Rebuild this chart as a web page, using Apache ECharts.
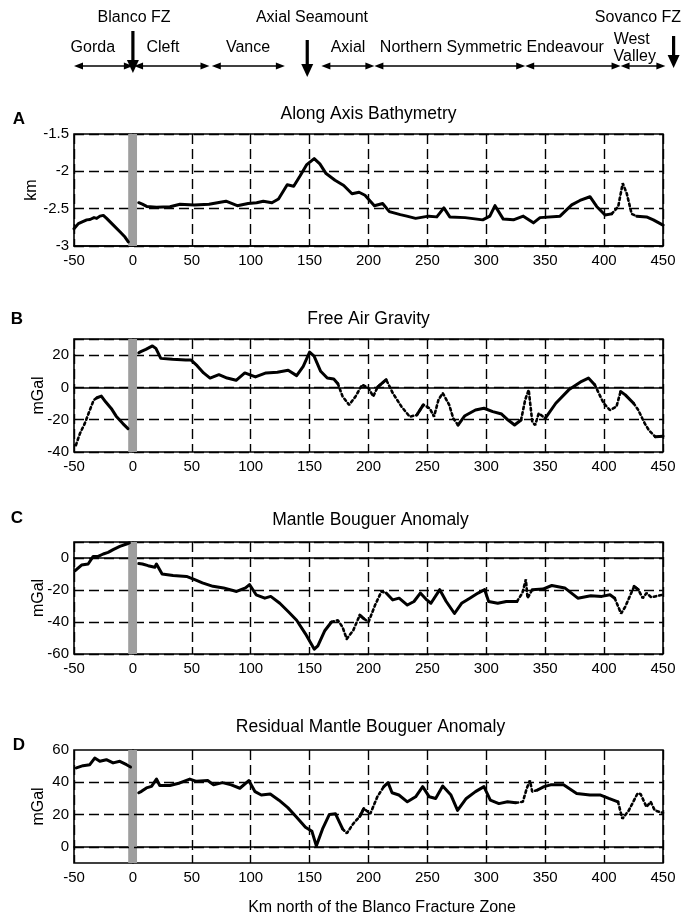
<!DOCTYPE html>
<html><head><meta charset="utf-8">
<script src="https://cdn.jsdelivr.net/npm/echarts@6/dist/echarts.min.js"></script>
<style>html,body{margin:0;padding:0;background:#fff}#c{width:681px;height:920px}</style>
</head><body><div id="c"></div>
<script>
// ---------- data ----------
const kmMin = -50, kmMax = 450, kmStep = 50;
const bandKm = [-4, 3.5]; // shaded Blanco FZ band

// A: Along axis bathymetry (km)
const bathyX = [-50,-46.3,-43.5,-39.2,-36.4,-33,-30.7,-28,-25.1,-22.3,-16.6,-11,-6.7,-3.9,1,
 5,8,11.7,20,31.5,40,52,64.6,79,88.6,97.8,105,110.7,118,123.6,131,136.5,142,147.6,153.9,158.7,164,171.6,179,186,192,197,205,212,217.7,227,232.5,240,251,258,264,269,282,297,303,307.4,314.4,323,331.4,340,345.6,362.6,372.5,379.5,388,393.7,400.8,406.4,412,415.8,419.2,423.4,427.7,436,441.8,450];
const bathyY = [-2.77,-2.70,-2.68,-2.65,-2.645,-2.62,-2.63,-2.60,-2.59,-2.63,-2.72,-2.81,-2.88,-2.945,null,
 -2.42,-2.44,-2.47,-2.48,-2.475,-2.44,-2.45,-2.44,-2.40,-2.46,-2.43,-2.42,-2.40,-2.42,-2.37,-2.18,-2.20,-2.06,-1.91,-1.83,-1.90,-2.03,-2.12,-2.19,-2.30,-2.28,-2.32,-2.46,-2.43,-2.54,-2.58,-2.60,-2.63,-2.60,-2.61,-2.49,-2.61,-2.62,-2.65,-2.60,-2.46,-2.64,-2.65,-2.60,-2.69,-2.62,-2.60,-2.45,-2.39,-2.34,-2.47,-2.585,-2.57,-2.47,-2.16,-2.295,-2.57,-2.60,-2.61,-2.65,-2.72];
const bathyDotted = [[410,426]];

// B: Free air gravity (mGal)
const faaX = [-48.4,-45,-40.9,-36.6,-33.3,-30.5,-26.8,-23.2,-18.4,-14.2,-8.5,-4.2,1,
 5,6.7,11,16.6,19.5,23.7,33.6,44.9,49.2,54.5,60,65.5,73,80,87.6,95,104,113,122.6,131.8,139,144.6,150,153.8,159.4,165,170.5,174,178,183.6,189,194.6,200,204,207.7,215,220.6,228,235,241,246.5,252,255.6,259.4,263,268.5,272,276,281.5,290.8,298,305.5,313,318.5,324,329.5,333,336,339,341.5,344.5,350,359,370,381,386.7,392,399.6,405,410.5,414,418,425,429,434.5,438,443.5,450];
const faaY = [-35.8,-28.6,-22.4,-14.1,-7.9,-6.4,-5.4,-8.9,-13,-17.8,-22.4,-25.5,null,
 21.5,22.2,23.6,25.7,24.2,18,17.4,17,17,13.5,9.0,5.8,7.9,5.8,4.4,9,6.5,9,9.4,10.6,7.3,13.1,21.9,19.4,10,5.8,5.2,2.3,-5.6,-10.8,-5.6,1.7,-0.4,-5.6,0.2,4.8,-3.5,-11.9,-18.1,-17.1,-10.8,-12.9,-18.1,-7.7,-3.5,-10.8,-19.2,-23.3,-17.7,-14,-12.9,-15,-16.5,-20.2,-23.3,-20.2,-7.7,-1.5,-21.3,-23.3,-16,-19.2,-9.8,-1.5,3.8,5.8,1.7,-9.8,-14,-11.9,-2.5,-4.6,-9.8,-14,-22.3,-26.5,-30.6,-30.2];
const faaDotted = [[-48.5,-33],[176,190],[198,206],[218,236],[252,275],[330,346],[398,412],[426,440]];

// C: Mantle Bouguer anomaly (mGal)
const mbaX = [-49,-43.6,-38,-33.7,-29.5,-25.2,-21,-16.8,-11.1,-5.4,-3,1,
 5,8.1,12.9,18.6,20,24.8,34.1,45.5,52.5,59,68,77,88,95.6,99,104.6,112,117,124.7,132,139,146.5,154,157,163,168.6,174,178,181.5,187,192.6,196,200,205.6,211,215,220.6,226,233,238.6,244,249.5,253,260.5,266,273,279,286,293,298.6,302,309.7,317,326,330.6,333.6,335,339,348,355.6,366.6,377.7,388.7,398,405,409,414.4,418,425.5,429,432.8,436,440,450];
const mbaY = [-7.9,-4.4,-3.75,1,1,2.5,3.5,5.2,7.3,8.75,9.5,null,
 -3.5,-3.75,-4.8,-5.8,-3.75,-10,-11,-11.5,-13.5,-15.5,-17.7,-18.7,-20.9,-18.7,-16.6,-23,-25.1,-24,-28.3,-33.6,-38.9,-47.4,-57,-54.9,-45.3,-40,-38.9,-43.2,-50.6,-45.3,-35.7,-37.9,-40,-29.4,-20.9,-21.9,-26.2,-25.1,-29.4,-27.2,-21.9,-26.2,-28.3,-19.8,-27.2,-34.7,-28.3,-25.1,-21.9,-19.8,-27.2,-28.3,-27.2,-27.2,-21.9,-13.4,-25.1,-19.8,-19.4,-17.2,-18.7,-25.1,-23.6,-24,-23,-25.1,-34.7,-30.4,-17.7,-19.8,-25.1,-21.9,-24.5,-23];
const mbaDotted = [[174,190],[200,211],[330,337],[410,420],[430,442]];

// D: Residual mantle Bouguer anomaly (mGal)
const rmbaX = [-48,-42.3,-36.6,-32.4,-28.1,-22.5,-16.8,-11.1,-5.4,-2,1,
 5,7.3,11.5,15.8,20,22.8,31.3,39.8,48.3,54,63.5,68.5,76,83.5,90.8,98.4,103.7,109,116.6,124,131.5,139,146.5,152,155.7,161,166.8,172,178,181.6,187,192.6,196,201.5,207.5,213,216.6,220,225.8,233,240,246,251.6,257,263,270,275.6,283,290.8,298,303.4,310.7,318,325,331,334.4,337,339,343.5,349,354.6,365.6,376.7,388,397,404,411.8,415.5,421,428.4,431,436,439.5,443,450];
const rmbaY = [48.9,50.3,50.9,55,53,54,52,53,50.9,49.5,null,
 33.5,34.4,36.5,37.5,42,38,38,39.6,42,40.6,41.1,38.4,39.8,38.4,36.3,41.1,34.2,32.1,32.7,28.9,24.3,18.4,12.2,9.6,0.6,11.1,20.1,20.5,11.1,8.4,14.3,18.9,23.7,20.5,31,37.3,39.8,33.5,32.1,27.9,31,37.3,31,30,37.7,32.1,22.6,30,34.2,37.3,28.9,26.8,27.9,27.3,27.9,36.3,41.1,34.2,35.2,37.3,38.4,38.4,33.1,32.1,32.1,30,27.9,17.4,22.6,33.1,32.7,24.7,27.9,22.6,21];
const rmbaDotted = [[181,192],[201,212],[331,340],[412,421],[431,445]];

// panel text and y ranges
const panelLetters = ['A','B','C','D'];
const panelTitles = ['Along Axis Bathymetry','Free Air Gravity','Mantle Bouguer Anomaly','Residual Mantle Bouguer Anomaly'];
const yNames = ['km','mGal','mGal','mGal'];
const yMins = [-3,-40,-60,-10];
const yMaxs = [-1.5,30,10,60];
const yIntervals = [0.5,20,20,10];
const yLabelStep = [0.5,20,20,20];
const rmbaGridValues = [0,20,40];
const xAxisTitle = 'Km north of the Blanco Fracture Zone';

// header annotations (km)
const headerSegments = [[-50,0],[1,65],[67,129],[160,205],[205,333],[333,414],[414,452]];
const headerLabels = ['Gorda','Cleft','Vance','Axial','Northern Symmetric','Endeavour'];
const headerLabelKm = [-34,25.5,97.7,182.6,270,367];
const westValleyKm = 426;
const fzNames = ['Blanco FZ','Axial Seamount','Sovanco FZ'];
const fzLabelKm = [1,152,430];
const fzArrowKm = [0,148,459];

// ---------- layout ----------
const FONT = '"Liberation Sans", Arial, Helvetica, sans-serif';
const grids = [
  {top:134, height:112},
  {top:339, height:113},
  {top:542, height:112},
  {top:750, height:113}
].map(g => Object.assign({left:74, right:18, show:true, borderColor:'#000', borderWidth:1.6, backgroundColor:'transparent', containLabel:false, outerBoundsMode:'none'}, g));

const dashed = {type:[10,5], color:'#000', width:1.4};

function splitDotted(xs, ys, ranges){
  const inR = i => i>=0 && i<xs.length && ys[i]!==null && ranges.some(r => xs[i]>=r[0] && xs[i]<=r[1]);
  const solid = [], dotted = [];
  for (let i=0;i<xs.length;i++){
    const y = ys[i]===null ? '-' : ys[i];
    solid.push([xs[i], inR(i) ? '-' : y]);
    dotted.push([xs[i], (inR(i)||inR(i-1)||inR(i+1)) ? y : '-']);
  }
  return [solid, dotted];
}

const datasets = [
  [bathyX, bathyY, bathyDotted],
  [faaX, faaY, faaDotted],
  [mbaX, mbaY, mbaDotted],
  [rmbaX, rmbaY, rmbaDotted]
];

const xAxes = [0,1,2,3].map(i => ({
  type:'value', gridIndex:i, min:kmMin, max:kmMax, interval:kmStep,
  axisLine:{show:true, lineStyle:{color:'#000', width:1.6}},
  axisTick:{show:false},
  axisLabel:{show:true, color:'#000', fontSize:15, fontFamily:FONT, margin:7},
  splitLine:{show:true, lineStyle:dashed},
  name: i===3 ? xAxisTitle : '',
  nameLocation:'middle', nameGap:37, nameMoveOverlap:false,
  nameTextStyle:{color:'#000', fontSize:16, fontFamily:FONT, padding:[0,0,0,27]}
}));

const yAxes = [0,1,2,3].map(i => ({
  type:'value', gridIndex:i, min:yMins[i], max:yMaxs[i], interval:yIntervals[i],
  axisLine:{show:true, lineStyle:{color:'#000', width:1.6}},
  axisTick:{show:false},
  axisLabel:{show:true, color:'#000', fontSize:15, fontFamily:FONT, margin:5,
    formatter: v => { const r = v / yLabelStep[i]; return Math.abs(r - Math.round(r)) < 1e-6 ? String(+v.toFixed(2)) : ''; }},
  splitLine:{show: i!==3, lineStyle:dashed},
  name: yNames[i], nameLocation:'middle', nameRotate:90, nameGap: i===0 ? 34 : 27, nameMoveOverlap:false,
  nameTextStyle:{color:'#000', fontSize:16, fontFamily:FONT}
}));

const series = [];
datasets.forEach((d, i) => {
  const [solid, dotted] = splitDotted(d[0], d[1], d[2]);
  const s = {
    type:'line', xAxisIndex:i, yAxisIndex:i, data:solid, showSymbol:false, symbol:'none',
    connectNulls:false, animation:false, z:3,
    lineStyle:{color:'#000', width:3, join:'round', cap:'round'},
    markArea:{silent:true, label:{show:false}, itemStyle:{color:'#9e9e9e', opacity:1},
      data:[[{xAxis:bandKm[0]},{xAxis:bandKm[1]}]]}
  };
  if (i === 3) {
    s.markLine = {silent:true, symbol:'none', label:{show:false}, animation:false,
      lineStyle:dashed, data: rmbaGridValues.map(v => ({yAxis:v}))};
  }
  series.push(s);
  series.push({
    type:'line', xAxisIndex:i, yAxisIndex:i, data:dotted, showSymbol:false, symbol:'none',
    connectNulls:false, animation:false, z:3,
    lineStyle:{color:'#000', width:2.6, type:[2.5,3], cap:'round'}
  });
});

const chart = echarts.init(document.getElementById('c'), null, {renderer:'canvas'});
chart.setOption({
  backgroundColor:'#fff', animation:false,
  grid:grids, xAxis:xAxes, yAxis:yAxes, series:series
});

// ---------- annotations ----------
const px = km => chart.convertToPixel({xAxisIndex:0}, km);
const g = [];
function txt(x, y, text, size, weight, align){
  g.push({type:'text', x:x, y:y, silent:true, style:{text:text, fill:'#000', fontSize:size, fontFamily:FONT, fontWeight:weight||'normal', align:align||'center', verticalAlign:'middle'}});
}
const titleY = [114, 319, 520, 727];
const letterPos = [[19,119],[17,319],[17,518],[19,745]];
const plotCenter = px((kmMin + kmMax) / 2);
panelTitles.forEach((t, i) => txt(plotCenter + (i>=2 ? 2 : 0), titleY[i], t, 17.5));
panelLetters.forEach((t, i) => txt(letterPos[i][0], letterPos[i][1], t, 17, 'bold'));

// header
const hy = 66;
headerSegments.forEach(s => {
  const a = px(s[0]), b = px(s[1]);
  g.push({type:'line', silent:true, shape:{x1:a+3, y1:hy, x2:b-3, y2:hy}, style:{stroke:'#000', lineWidth:1.3}});
  g.push({type:'polygon', silent:true, shape:{points:[[a,hy],[a+9,hy-3.5],[a+9,hy+3.5]]}, style:{fill:'#000'}});
  g.push({type:'polygon', silent:true, shape:{points:[[b,hy],[b-9,hy-3.5],[b-9,hy+3.5]]}, style:{fill:'#000'}});
});
headerLabels.forEach((t, i) => txt(px(headerLabelKm[i]), 48, t, 16));
txt(px(westValleyKm) - 3, 40, 'West', 16);
txt(px(westValleyKm), 57, 'Valley', 16);
fzNames.forEach((t, i) => txt(Math.min(px(fzLabelKm[i]), 638), 18, t, 16));
const arrowSpans = [[31,73],[40,77],[36,68]];
fzArrowKm.forEach((k, i) => {
  const x = Math.min(px(k), 676);
  const [y0, y1] = arrowSpans[i];
  g.push({type:'line', silent:true, shape:{x1:x, y1:y0, x2:x, y2:y1-10}, style:{stroke:'#000', lineWidth:3.2}});
  g.push({type:'polygon', silent:true, shape:{points:[[x-6,y1-13],[x+6,y1-13],[x,y1]]}, style:{fill:'#000'}});
});

chart.setOption({graphic:{elements:g}});
</script>
</body></html>
